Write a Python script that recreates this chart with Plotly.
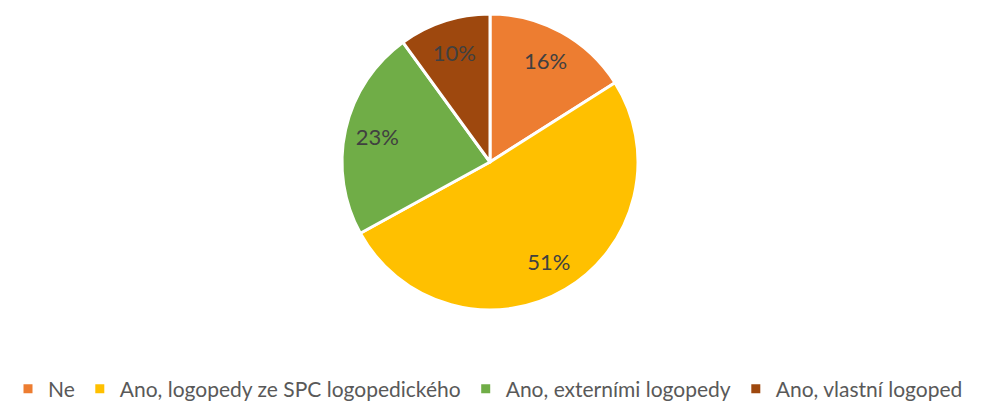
import plotly.graph_objects as go

categories = ["Ne", "Ano, logopedy ze SPC logopedického", "Ano, externími logopedy", "Ano, vlastní logoped"]
values = [16, 51, 23, 10]
colors = ["#ED7D31", "#FFC000", "#70AD47", "#9E480E"]

W, H = 985, 401
OFF = 8  # page body margin offset compensation
dom = dict(x=[(342 - OFF) / W, (638 - OFF) / W], y=[(H - 310 + OFF) / H, (H - 14 + OFF) / H])

fig = go.Figure()
fig.add_trace(go.Pie(
    labels=categories,
    values=values,
    sort=False,
    direction="clockwise",
    rotation=0,
    marker=dict(colors=colors, line=dict(color="white", width=3)),
    textinfo="none",
    domain=dom,
    hoverinfo="label+percent",
))
# label layer: transparent ring so the percentages sit near the rim
fig.add_trace(go.Pie(
    labels=categories,
    values=values,
    sort=False,
    direction="clockwise",
    rotation=0,
    hole=0.56,
    marker=dict(colors=["rgba(0,0,0,0)"] * len(values), line=dict(width=0)),
    texttemplate="%{percent:.0%}",
    textposition="inside",
    insidetextorientation="horizontal",
    textfont=dict(family="Lato, sans-serif", size=22, color="#404040"),
    domain=dom,
    showlegend=False,
    hoverinfo="skip",
))

fig.update_layout(
    width=W, height=H,
    margin=dict(l=0, r=0, t=0, b=0, autoexpand=False),
    paper_bgcolor="white",
    plot_bgcolor="white",
    showlegend=True,
    legend=dict(
        orientation="h",
        x=0, xanchor="left",
        y=(H - 389 + OFF) / H, yanchor="middle",
        font=dict(family="Lato, sans-serif", size=21, color="#595959"),
        itemwidth=30,
    ),
)

fig.write_html("out.html")
